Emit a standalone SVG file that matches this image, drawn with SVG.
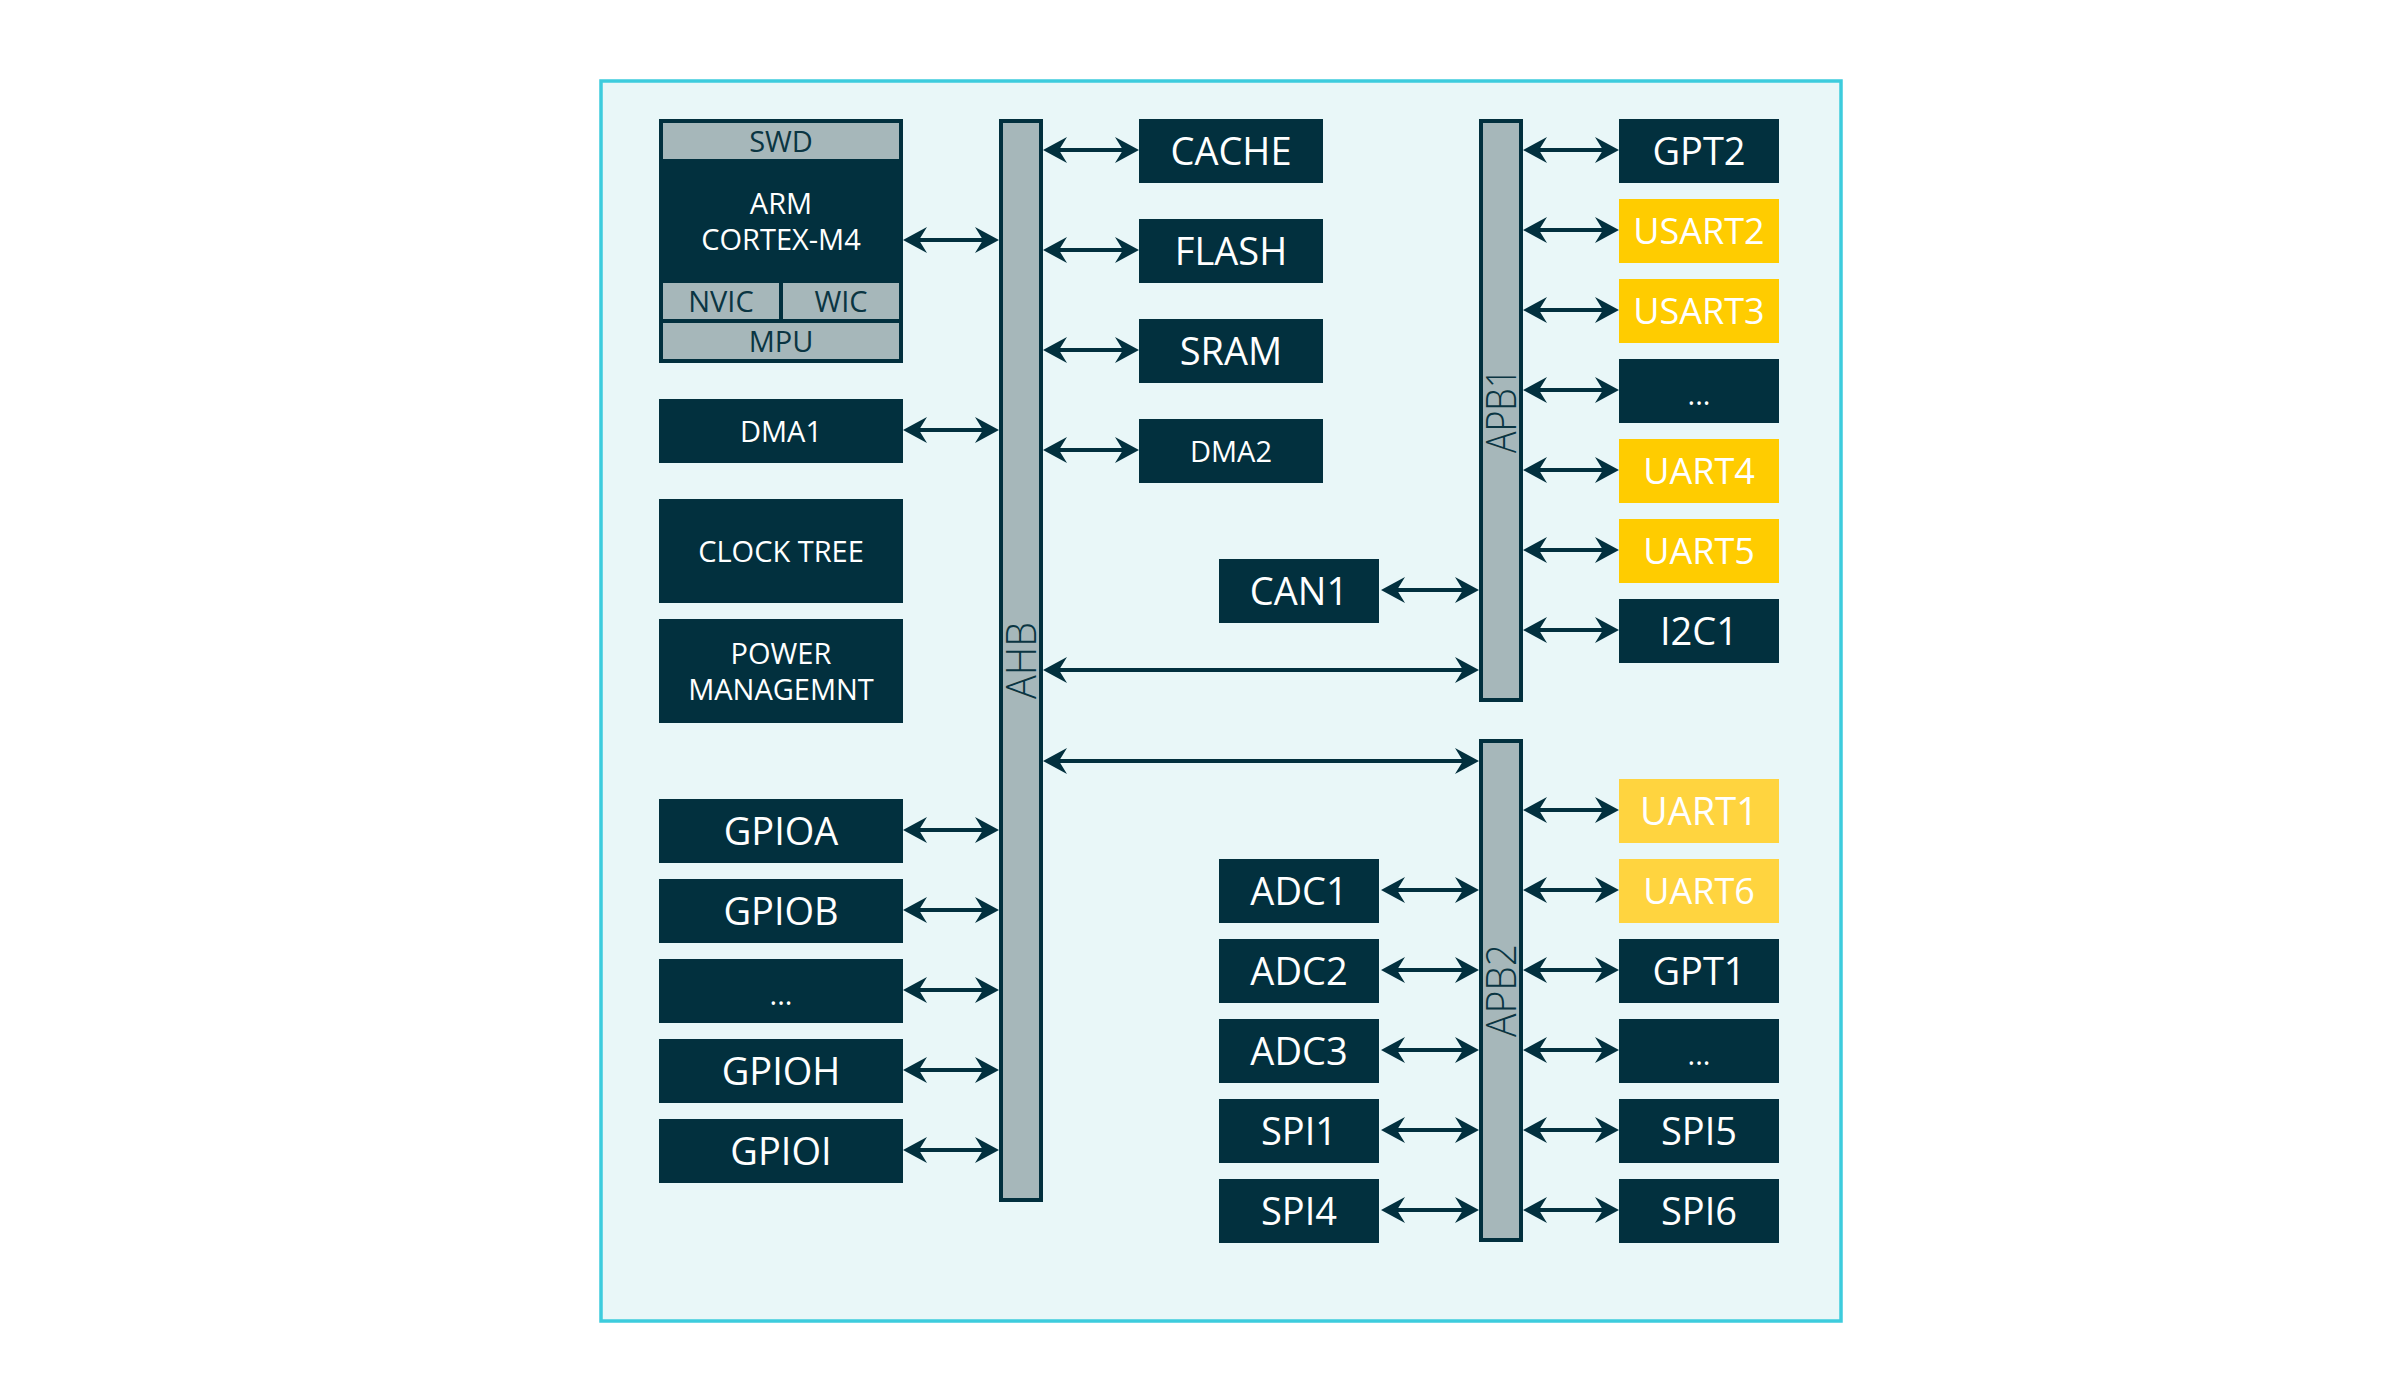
<svg xmlns="http://www.w3.org/2000/svg" width="2400" height="1400" viewBox="0 0 2400 1400">
<style>
.frame{fill:#E9F7F8;stroke:#3DCCDD;stroke-width:3.5}
.dk{fill:#02303E}
.gy{fill:#A6B7BA}
.ye{fill:#FFCC00}
.ye2{fill:#FFD43F}
.bus{fill:#A6B7BA;stroke:#02303E;stroke-width:4}
text{font-family:"Open Sans","Liberation Sans",sans-serif;text-anchor:middle;font-weight:400}
.w{fill:#FFFFFF}
.d{fill:#0A3542}
.lg{font-size:38px}
.md{font-size:36px}
.sm{font-size:29px}
.bl{font-size:42px;fill:#0A3542;font-weight:300}
.cn{stroke:#02303E;stroke-width:4;fill:none;marker-start:url(#ah);marker-end:url(#ah)}
</style>
<defs>
<marker id="ah" markerUnits="userSpaceOnUse" viewBox="0 0 26 26" refX="14" refY="13" markerWidth="26" markerHeight="26" orient="auto-start-reverse">
<path d="M0,0 L24,13 L0,26 L8,13 Z" fill="#02303E"/>
</marker>
</defs>
<rect class="frame" x="601" y="81" width="1240" height="1240"/>

<g id="connectors">
<line class="cn" x1="913" y1="240" x2="989" y2="240"/>
<line class="cn" x1="913" y1="430" x2="989" y2="430"/>
<line class="cn" x1="913" y1="830" x2="989" y2="830"/>
<line class="cn" x1="913" y1="910" x2="989" y2="910"/>
<line class="cn" x1="913" y1="990" x2="989" y2="990"/>
<line class="cn" x1="913" y1="1070" x2="989" y2="1070"/>
<line class="cn" x1="913" y1="1150" x2="989" y2="1150"/>
<line class="cn" x1="1053" y1="150" x2="1129" y2="150"/>
<line class="cn" x1="1053" y1="250" x2="1129" y2="250"/>
<line class="cn" x1="1053" y1="350" x2="1129" y2="350"/>
<line class="cn" x1="1053" y1="450" x2="1129" y2="450"/>
<line class="cn" x1="1053" y1="670" x2="1469" y2="670"/>
<line class="cn" x1="1053" y1="761" x2="1469" y2="761"/>
<line class="cn" x1="1391" y1="590" x2="1469" y2="590"/>
<line class="cn" x1="1391" y1="890" x2="1469" y2="890"/>
<line class="cn" x1="1391" y1="970" x2="1469" y2="970"/>
<line class="cn" x1="1391" y1="1050" x2="1469" y2="1050"/>
<line class="cn" x1="1391" y1="1130" x2="1469" y2="1130"/>
<line class="cn" x1="1391" y1="1210" x2="1469" y2="1210"/>
<line class="cn" x1="1533" y1="150" x2="1609" y2="150"/>
<line class="cn" x1="1533" y1="230" x2="1609" y2="230"/>
<line class="cn" x1="1533" y1="310" x2="1609" y2="310"/>
<line class="cn" x1="1533" y1="390" x2="1609" y2="390"/>
<line class="cn" x1="1533" y1="470" x2="1609" y2="470"/>
<line class="cn" x1="1533" y1="550" x2="1609" y2="550"/>
<line class="cn" x1="1533" y1="630" x2="1609" y2="630"/>
<line class="cn" x1="1533" y1="810" x2="1609" y2="810"/>
<line class="cn" x1="1533" y1="890" x2="1609" y2="890"/>
<line class="cn" x1="1533" y1="970" x2="1609" y2="970"/>
<line class="cn" x1="1533" y1="1050" x2="1609" y2="1050"/>
<line class="cn" x1="1533" y1="1130" x2="1609" y2="1130"/>
<line class="cn" x1="1533" y1="1210" x2="1609" y2="1210"/>
</g>

<g id="cpu">
<rect class="dk" x="659" y="119" width="244" height="244"/>
<rect class="gy" x="663" y="123" width="236" height="36"/>
<rect class="gy" x="663" y="283" width="116" height="36"/>
<rect class="gy" x="783" y="283" width="116" height="36"/>
<rect class="gy" x="663" y="323" width="236" height="36"/>
<text class="sm d" x="781" y="151.5">SWD</text>
<text class="sm w" x="781" y="214">ARM</text>
<text class="sm w" x="781" y="250">CORTEX-M4</text>
<text class="sm d" x="721" y="311.5">NVIC</text>
<text class="sm d" x="841" y="311.5">WIC</text>
<text class="sm d" x="781" y="351.5">MPU</text>
</g>
<g id="dma1"><rect class="dk" x="659" y="399" width="244" height="64"/><text class="sm w" x="781" y="441.5">DMA1</text></g>
<g id="clocktree"><rect class="dk" x="659" y="499" width="244" height="104"/><text class="sm w" x="781" y="561.5">CLOCK TREE</text></g>
<g id="power"><rect class="dk" x="659" y="619" width="244" height="104"/><text class="sm w" x="781" y="663.5">POWER</text><text class="sm w" x="781" y="700">MANAGEMNT</text></g>
<g id="gpioa"><rect class="dk" x="659" y="799" width="244" height="64"/><text class="lg w" x="781" y="845">GPIOA</text></g>
<g id="gpiob"><rect class="dk" x="659" y="879" width="244" height="64"/><text class="lg w" x="781" y="925">GPIOB</text></g>
<g id="gpiodots"><rect class="dk" x="659" y="959" width="244" height="64"/><text class="sm w" x="781" y="1005">...</text></g>
<g id="gpioh"><rect class="dk" x="659" y="1039" width="244" height="64"/><text class="lg w" x="781" y="1085">GPIOH</text></g>
<g id="gpioi"><rect class="dk" x="659" y="1119" width="244" height="64"/><text class="lg w" x="781" y="1165">GPIOI</text></g>

<g id="ahb"><rect class="bus" x="1001" y="121" width="40" height="1079"/><text class="bl" transform="translate(1021,660.5) rotate(-90)" x="0" y="15" textLength="77" lengthAdjust="spacingAndGlyphs">AHB</text></g>

<g id="cache"><rect class="dk" x="1139" y="119" width="184" height="64"/><text class="lg w" x="1231" y="165">CACHE</text></g>
<g id="flash"><rect class="dk" x="1139" y="219" width="184" height="64"/><text class="lg w" x="1231" y="265">FLASH</text></g>
<g id="sram"><rect class="dk" x="1139" y="319" width="184" height="64"/><text class="lg w" x="1231" y="365">SRAM</text></g>
<g id="dma2"><rect class="dk" x="1139" y="419" width="184" height="64"/><text class="sm w" x="1231" y="461.5">DMA2</text></g>

<g id="can1"><rect class="dk" x="1219" y="559" width="160" height="64"/><text class="lg w" x="1299" y="605">CAN1</text></g>
<g id="adc1"><rect class="dk" x="1219" y="859" width="160" height="64"/><text class="lg w" x="1299" y="905">ADC1</text></g>
<g id="adc2"><rect class="dk" x="1219" y="939" width="160" height="64"/><text class="lg w" x="1299" y="985">ADC2</text></g>
<g id="adc3"><rect class="dk" x="1219" y="1019" width="160" height="64"/><text class="lg w" x="1299" y="1065">ADC3</text></g>
<g id="spi1"><rect class="dk" x="1219" y="1099" width="160" height="64"/><text class="lg w" x="1299" y="1145">SPI1</text></g>
<g id="spi4"><rect class="dk" x="1219" y="1179" width="160" height="64"/><text class="lg w" x="1299" y="1225">SPI4</text></g>

<g id="apb1"><rect class="bus" x="1481" y="121" width="40" height="579"/><text class="bl" transform="translate(1501,410.5) rotate(-90)" x="0" y="15" textLength="85" lengthAdjust="spacingAndGlyphs">APB1</text></g>
<g id="apb2"><rect class="bus" x="1481" y="741" width="40" height="499"/><text class="bl" transform="translate(1501,990.5) rotate(-90)" x="0" y="15" textLength="93" lengthAdjust="spacingAndGlyphs">APB2</text></g>

<g id="gpt2"><rect class="dk" x="1619" y="119" width="160" height="64"/><text class="lg w" x="1699" y="165">GPT2</text></g>
<g id="usart2"><rect class="ye" x="1619" y="199" width="160" height="64"/><text class="md w" x="1699" y="244">USART2</text></g>
<g id="usart3"><rect class="ye" x="1619" y="279" width="160" height="64"/><text class="md w" x="1699" y="324">USART3</text></g>
<g id="apb1dots"><rect class="dk" x="1619" y="359" width="160" height="64"/><text class="sm w" x="1699" y="405">...</text></g>
<g id="uart4"><rect class="ye" x="1619" y="439" width="160" height="64"/><text class="md w" x="1699" y="484">UART4</text></g>
<g id="uart5"><rect class="ye" x="1619" y="519" width="160" height="64"/><text class="md w" x="1699" y="564">UART5</text></g>
<g id="i2c1"><rect class="dk" x="1619" y="599" width="160" height="64"/><text class="lg w" x="1699" y="645">I2C1</text></g>
<g id="uart1"><rect class="ye2" x="1619" y="779" width="160" height="64"/><text class="lg w" x="1699" y="825">UART1</text></g>
<g id="uart6"><rect class="ye2" x="1619" y="859" width="160" height="64"/><text class="md w" x="1699" y="904">UART6</text></g>
<g id="gpt1"><rect class="dk" x="1619" y="939" width="160" height="64"/><text class="lg w" x="1699" y="985">GPT1</text></g>
<g id="apb2dots"><rect class="dk" x="1619" y="1019" width="160" height="64"/><text class="sm w" x="1699" y="1065">...</text></g>
<g id="spi5"><rect class="dk" x="1619" y="1099" width="160" height="64"/><text class="lg w" x="1699" y="1145">SPI5</text></g>
<g id="spi6"><rect class="dk" x="1619" y="1179" width="160" height="64"/><text class="lg w" x="1699" y="1225">SPI6</text></g>
</svg>
